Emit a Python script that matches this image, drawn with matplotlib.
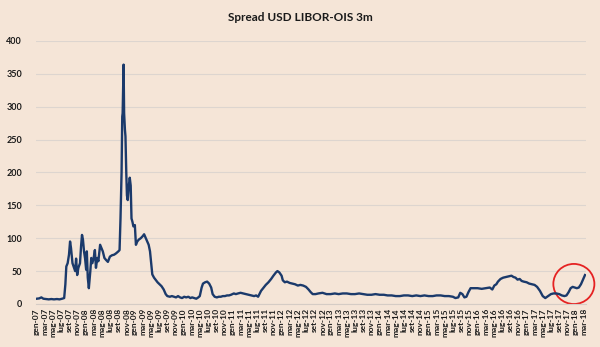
import pandas as pd
import matplotlib
matplotlib.use("Agg")
import matplotlib.pyplot as plt
import matplotlib.dates as mdates
from matplotlib.patches import Ellipse

# Spread USD LIBOR-OIS 3m (bp)
dates = [
    "2007-01-02", "2007-01-20", "2007-02-05", "2007-02-20", "2007-03-10", "2007-04-01",
    "2007-04-20", "2007-05-10", "2007-06-01", "2007-06-20", "2007-07-10", "2007-07-25",
    "2007-08-03", "2007-08-10", "2007-08-20", "2007-08-30", "2007-09-07", "2007-09-14",
    "2007-09-25", "2007-10-05", "2007-10-15", "2007-10-22", "2007-10-30", "2007-11-08",
    "2007-11-20", "2007-11-28", "2007-12-05", "2007-12-12", "2007-12-20", "2007-12-28",
    "2008-01-05", "2008-01-10", "2008-01-17", "2008-01-25", "2008-02-05", "2008-02-12",
    "2008-02-20", "2008-03-01", "2008-03-10", "2008-03-18", "2008-03-28", "2008-04-05",
    "2008-04-18", "2008-04-28", "2008-05-08", "2008-05-20", "2008-06-01", "2008-06-15",
    "2008-06-30", "2008-07-15", "2008-08-01", "2008-08-15", "2008-09-01", "2008-09-10",
    "2008-09-17", "2008-09-25", "2008-09-30", "2008-10-03", "2008-10-10", "2008-10-14",
    "2008-10-20", "2008-10-24", "2008-10-30", "2008-11-04", "2008-11-10", "2008-11-18",
    "2008-11-25", "2008-12-02", "2008-12-08", "2008-12-15", "2008-12-22", "2009-01-02",
    "2009-01-10", "2009-01-20", "2009-02-01", "2009-02-15", "2009-03-01", "2009-03-12",
    "2009-03-25", "2009-04-05", "2009-04-15", "2009-04-25", "2009-05-05", "2009-05-12",
    "2009-05-25", "2009-06-05", "2009-06-20", "2009-07-05", "2009-07-20", "2009-08-05",
    "2009-08-20", "2009-09-01", "2009-09-20", "2009-10-05", "2009-10-20", "2009-11-05",
    "2009-11-20", "2009-12-05", "2009-12-20", "2010-01-05", "2010-01-20", "2010-02-05",
    "2010-02-20", "2010-03-05", "2010-03-20", "2010-04-05", "2010-04-20", "2010-05-01",
    "2010-05-15", "2010-05-25", "2010-06-10", "2010-06-25", "2010-07-10", "2010-07-25",
    "2010-08-05", "2010-08-20", "2010-09-05", "2010-09-20", "2010-10-05", "2010-10-20",
    "2010-11-05", "2010-11-20", "2010-12-05", "2010-12-20", "2011-01-10", "2011-01-25",
    "2011-02-10", "2011-03-01", "2011-03-20", "2011-04-10", "2011-05-01", "2011-05-20",
    "2011-06-10", "2011-06-25", "2011-07-10", "2011-08-01", "2011-08-20", "2011-09-05",
    "2011-09-25", "2011-10-15", "2011-11-01", "2011-11-20", "2011-12-01", "2011-12-15",
    "2012-01-01", "2012-01-10", "2012-01-25", "2012-02-10", "2012-03-01", "2012-03-20",
    "2012-04-10", "2012-05-01", "2012-05-20", "2012-06-10", "2012-07-01", "2012-07-20",
    "2012-08-05", "2012-08-20", "2012-09-10", "2012-10-01", "2012-11-01", "2012-12-01",
    "2013-01-01", "2013-02-01", "2013-03-01", "2013-04-01", "2013-05-01", "2013-06-01",
    "2013-07-01", "2013-08-01", "2013-09-01", "2013-10-01", "2013-11-01", "2013-12-01",
    "2014-01-01", "2014-02-01", "2014-03-01", "2014-04-01", "2014-05-01", "2014-06-01",
    "2014-07-01", "2014-08-01", "2014-09-01", "2014-10-01", "2014-11-01", "2014-12-01",
    "2015-01-01", "2015-02-01", "2015-03-01", "2015-04-01", "2015-05-01", "2015-06-01",
    "2015-07-01", "2015-07-20", "2015-08-10", "2015-08-25", "2015-09-10", "2015-09-25",
    "2015-10-10", "2015-10-25", "2015-11-10", "2015-12-01", "2016-01-01", "2016-02-01",
    "2016-03-01", "2016-04-01", "2016-04-20", "2016-05-05", "2016-05-20", "2016-06-01",
    "2016-06-20", "2016-07-10", "2016-08-01", "2016-08-20", "2016-09-10", "2016-09-25",
    "2016-10-10", "2016-10-25", "2016-11-10", "2016-11-25", "2016-12-10", "2017-01-01",
    "2017-01-20", "2017-02-10", "2017-03-01", "2017-03-20", "2017-04-10", "2017-05-01",
    "2017-05-20", "2017-06-10", "2017-07-01", "2017-07-20", "2017-08-10", "2017-09-01",
    "2017-09-20", "2017-10-10", "2017-10-25", "2017-11-10", "2017-11-25", "2017-12-10",
    "2017-12-25", "2018-01-10", "2018-01-25", "2018-02-10", "2018-02-25", "2018-03-12",
]
spread = [
    8, 8.5, 10, 8, 7.5, 7,
    7.5, 7, 7.5, 7, 8, 9,
    30, 57, 62, 75, 95, 85,
    62, 56, 50, 69, 44, 55,
    62, 88, 105, 98, 80, 69,
    52, 80, 40, 24, 50, 70,
    62, 70, 82, 55, 70, 65,
    90, 85, 80, 70, 67, 64,
    72, 74, 75, 77, 80, 82,
    130, 200, 285, 290, 364, 290,
    265, 255, 200, 165, 158, 180,
    192, 180, 130, 125, 118, 120,
    90, 95, 98, 100, 103, 106,
    100, 95, 90, 80, 60, 45,
    40, 37, 33, 30, 27, 22,
    15, 12, 11, 12, 11, 10,
    12, 10, 9, 11, 10, 11,
    9, 10, 9, 8, 10, 12,
    25, 31, 33, 34, 31, 25,
    15, 11, 10, 11, 11, 12,
    12, 13, 13, 14, 16, 15,
    16, 17, 16, 15, 14, 13,
    12, 13, 11, 20, 25, 29,
    33, 38, 43, 48, 50, 48,
    43, 36, 33, 34, 32, 31,
    30, 28, 29, 28, 26, 22,
    18, 15, 15, 16, 17, 15,
    15, 16, 15, 16, 16, 15,
    15, 16, 15, 14, 14, 15,
    14, 14, 13, 13, 12, 12,
    13, 13, 12, 13, 12, 13,
    12, 12, 13, 13, 12, 12,
    11, 9, 10, 17, 15, 10,
    11, 18, 24, 24, 24, 23,
    24, 25, 22, 28, 30, 34,
    38, 40, 41, 42, 43, 41,
    40, 37, 38, 35, 34, 33,
    31, 30, 29, 26, 20, 12,
    9, 12, 15, 16, 16, 15,
    13, 12, 13, 18, 24, 26,
    25, 24, 25, 30, 37, 44,
]
yticks = [0, 50, 100, 150, 200, 250, 300, 350, 400]
mesi = ["gen", "feb", "mar", "apr", "mag", "giu", "lug", "ago", "set", "ott", "nov", "dic"]

bg = "#F5E5D7"
x = pd.to_datetime(dates)

fig = plt.figure(figsize=(6, 3.47), dpi=100, facecolor=bg)
ax = fig.add_axes([0.06, 0.124, 0.917, 0.758], facecolor=bg)

ax.plot(x, spread, color="#1B3A6B", linewidth=1.7, solid_joinstyle="round")

# red circle highlighting the latest move
circle = Ellipse((mdates.date2num(pd.Timestamp("2017-12-19")), 30.4), width=306, height=61,
                 fill=False, edgecolor="#E52222", linewidth=1.3, clip_on=False)
ax.add_patch(circle)

ax.set_ylim(0, 400)
ax.set_yticks(yticks)
ax.set_xlim(pd.Timestamp("2006-12-27"), pd.Timestamp("2018-03-21"))
ax.xaxis.set_major_locator(mdates.MonthLocator(bymonth=[1, 3, 5, 7, 9, 11]))
ax.xaxis.set_major_formatter(plt.FuncFormatter(
    lambda v, pos: f"{mesi[mdates.num2date(v).month - 1]}-{mdates.num2date(v).year % 100:02d}"))

ax.grid(axis="y", color="#DDD5CF", linewidth=0.8)
ax.set_axisbelow(True)
for s in ["top", "right", "left"]:
    ax.spines[s].set_visible(False)
ax.spines["bottom"].set_color("#D5CCC5")
ax.tick_params(axis="both", length=0, colors="#1A1A1A")
ax.tick_params(axis="y", pad=10)
ax.tick_params(axis="x", pad=3)
for lab in ax.get_yticklabels():
    lab.set_fontsize(6.5)
    lab.set_fontweight("bold")
    lab.set_family("Lato")
for lab in ax.get_xticklabels():
    lab.set_fontsize(6)
    lab.set_fontweight("bold")
    lab.set_family("Lato")
    lab.set_rotation(90)

fig.text(0.5, 0.951, "Spread USD LIBOR-OIS 3m", ha="center", va="center",
         fontsize=8.5, fontweight="bold", family="Lato", color="#1A1A1A")

fig.savefig("out.png", dpi=100, facecolor=bg)
